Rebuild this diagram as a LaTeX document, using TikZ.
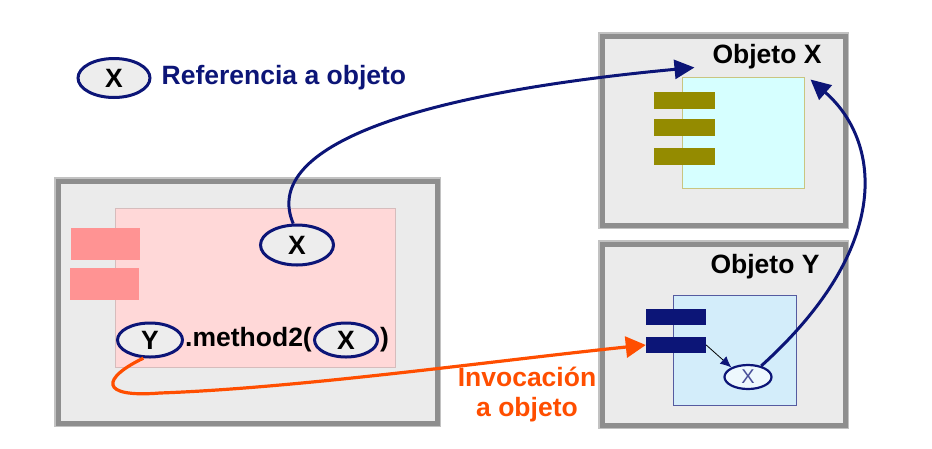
\documentclass[tikz,border=0pt]{standalone}
\usepackage{fontspec}
\setmainfont{Liberation Sans}
\usetikzlibrary{shapes.geometric,positioning,arrows.meta}
\definecolor{navyref}{HTML}{0C1577}
\definecolor{invorange}{HTML}{FF4E00}
\definecolor{boxgray}{HTML}{8E8E8E}
\definecolor{boxedge}{HTML}{C2C2C2}
\definecolor{boxfill}{HTML}{EBEBEB}
\definecolor{pinkarea}{HTML}{FFD8D8}
\definecolor{pinkbar}{HTML}{FF9393}
\definecolor{cyanarea}{HTML}{D6FFFF}
\definecolor{olivebar}{HTML}{948B00}
\definecolor{bluearea}{HTML}{D3EDFA}
\definecolor{ellfill}{HTML}{EDEDED}

\tikzset{
  objbox/.style={draw=boxgray, line width=5pt, fill=boxfill, preaction={draw=boxedge, line width=8pt}},
  area/.style={draw=#1!60!black!40, line width=1pt, inner sep=0pt},
  bar/.style={fill=#1, inner sep=0pt},
  bigtext/.style={font=\bfseries\fontsize{26.5}{30}\selectfont, inner sep=0pt},
  refell/.style={ellipse, draw=navyref, line width=3pt, fill=ellfill, inner sep=0pt, bigtext},
  refarrow/.style={draw=navyref, line width=3pt, -{Triangle[length=20pt,width=19pt]}},
  invarrow/.style={draw=invorange, line width=3.2pt, -{Triangle[length=20pt,width=21pt]}}
}

\begin{document}
\begin{tikzpicture}[x=1pt, y=-1pt, node distance=1pt]
  \useasboundingbox (0,0) rectangle (932,448);
  % the three objects
  \node[objbox, minimum width=379pt, minimum height=242pt] (objA) at (247.5,302) {};
  \node[objbox, minimum width=243pt, minimum height=189pt] (objX) at (723.5,130.5) {};
  \node[objbox, minimum width=243pt, minimum height=181pt] (objY) at (723.5,334.5) {};
  \node[area=pinkbar, fill=pinkarea, minimum width=280pt, minimum height=159pt] (pink) at (255,287.5) {};
  \node[area=olivebar, draw=olivebar!50, fill=cyanarea, minimum width=122pt, minimum height=111pt] (cyan) at (743,132.5) {};
  \node[area=navyref, draw=navyref!70, fill=bluearea, minimum width=123pt, minimum height=110pt] (blue) at (734.5,350) {};
  \node[bar=pinkbar, minimum width=69pt, minimum height=32pt] (pink1) at (105.5,244) {};
  \node[bar=pinkbar, minimum width=69pt, minimum height=32pt] (pink2) at (104.5,284) {};
  \foreach \i/\y in {1/100.5,2/127.5,3/156.5}
    \node[bar=olivebar, minimum width=61pt, minimum height=17pt] (olive\i) at (684.5,\y) {};
  \node[bar=navyref, minimum width=60pt, minimum height=16pt] (navy1) at (676,317) {};
  \node[bar=navyref, minimum width=60pt, minimum height=16pt] (navy2) at (676,345) {};
  \node[bigtext] (titleX) at (767,57) {Objeto X};
  \node[bigtext] (titleY) at (765,267) {Objeto Y};

  % references
  \node[refell, minimum width=72pt, minimum height=39pt] (legX) at (114,78) {X};
  \node[bigtext, text=navyref, right=10pt of legX] (legtext) {Referencia a objeto};
  \node[refell, minimum width=73pt, minimum height=40pt] (refX) at (297,245) {X};
  \node[refell, minimum width=65pt, minimum height=34pt] (ellY) at (150,340) {Y};
  \node[bigtext, right=of ellY] (method) {.method2(};
  \node[refell, minimum width=63pt, minimum height=34pt, right=of method] (ellX) {X};
  \node[bigtext, right=of ellX] (close) {)};
  \node[ellipse, draw=navyref, line width=2.2pt, fill=bluearea!40!white, inner sep=0pt,
        minimum width=47pt, minimum height=24pt, text=navyref!75,
        font=\fontsize{20}{24}\selectfont] (refXs) at (748,377) {X};
  \node[bigtext, align=center, text=invorange] (invtext) at (527,395) {Invocación\\a objeto};

  \coordinate (tipX) at ([shift={(13,-9)}]cyan.north west);
  \coordinate (tipXr) at ([shift={(6,3)}]cyan.north east);
  \draw[refarrow] (refX.100) .. controls (262,150) and (400,95) .. (tipX);
  \draw[refarrow] (refXs.40) .. controls (895,245) and (880,140) .. (tipXr);
  \draw[invarrow] (ellY.250) .. controls (102,378) and (98,398) .. (160,393)
    .. controls (300,388) and (500,360) .. (navy2.west);
  \draw[line width=0.8pt, -{Latex[length=11pt,width=10pt,color=navyref]}] (navy2.east) -- (refXs.150);
\end{tikzpicture}
\end{document}
